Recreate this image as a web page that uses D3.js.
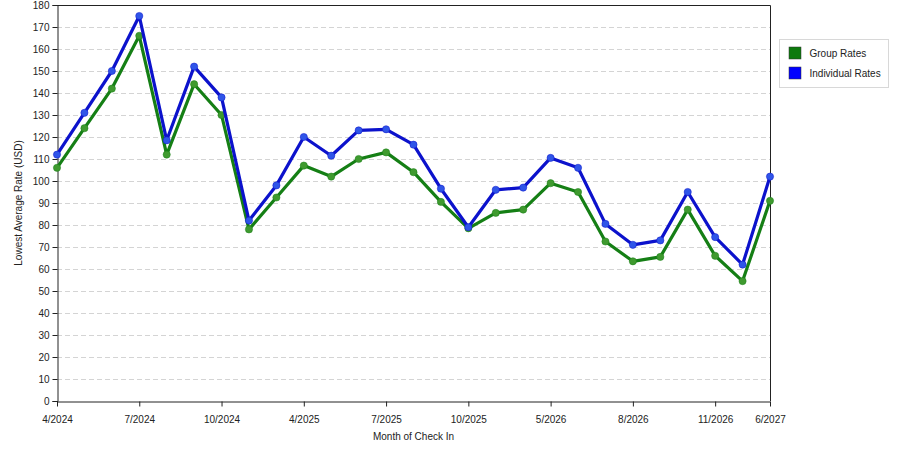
<html>
<head>
  <meta charset="utf-8">
  <title>Lowest Average Rate</title>
  <style>
    body { margin: 0; background: #fff; }
    text { font-family: "Liberation Sans", Arial, sans-serif; font-size: 10px; fill: #222; }
  </style>
</head>
<body>
<div id="chart"></div>
<script src="https://cdn.jsdelivr.net/npm/d3@7/dist/d3.min.js"></script>
<script>
var months = ['4/2024', '5/2024', '6/2024', '7/2024', '8/2024', '9/2024', '10/2024', '11/2024', '3/2025',
  '4/2025', '5/2025', '6/2025', '7/2025', '8/2025', '9/2025', '10/2025', '3/2026', '4/2026',
  '5/2026', '6/2026', '7/2026', '8/2026', '9/2026', '10/2026', '11/2026', '5/2027', '6/2027']
var groupRates = [106, 124, 142, 166, 112, 144, 130, 78, 92.5,
  107, 102, 110, 113, 104, 90.5, 78.5, 85.5, 87,
  99, 95, 72.5, 63.5, 65.5, 87, 66, 54.5, 91]
var individualRates = [112, 131, 150, 175, 118.5, 152, 138, 82, 98,
  120, 111.5, 123, 123.5, 116.5, 96.5, 79, 96, 97,
  110.5, 106, 80.5, 71, 73, 95, 74.5, 62, 102]
var shownTicks = ['4/2024', '7/2024', '10/2024', '4/2025', '7/2025', '10/2025', '5/2026', '8/2026', '11/2026', '6/2027']
var yTicks = d3.range(0, 181, 10)

var width = 900
var height = 450
var margin = {top: 5, right: 130, bottom: 49, left: 57}
var plotW = width - margin.left - margin.right
var plotH = height - margin.top - margin.bottom

var svg = d3.select('#chart').append('svg')
  .attr('width', width)
  .attr('height', height)

var xScale = d3.scalePoint()
  .domain(months)
  .range([0, plotW])

var yScale = d3.scaleLinear()
  .domain([0, 180])
  .range([plotH, 0])

var g = svg.append('g')
  .attr('transform', `translate(${margin.left},${margin.top})`)

// grid
g.selectAll('.grid')
  .data(yTicks.filter(function(d) { return d > 0 && d < 180 }))
  .enter().append('line')
  .attr('x1', 0)
  .attr('x2', plotW)
  .attr('y1', function(d) { return yScale(d) + 0.5 })
  .attr('y2', function(d) { return yScale(d) + 0.5 })
  .attr('stroke', '#d4d4d4')
  .attr('stroke-dasharray', '5,3')

// frame top / right
g.append('path')
  .attr('d', `M0.5,0.5H${plotW + 0.5}V${plotH}`)
  .attr('fill', 'none')
  .attr('stroke', '#222')

var yAxis = d3.axisLeft(yScale)
  .tickValues(yTicks)
  .tickSize(5)
  .tickPadding(3)
var gy = g.append('g').attr('transform', 'translate(0.5,0)').call(yAxis)
gy.select('.domain').attr('stroke', '#222')
gy.selectAll('.tick line').attr('stroke', '#222')
gy.selectAll('text').style('font-size', '10px').attr('fill', '#222')

var xAxis = d3.axisBottom(xScale)
  .tickValues(shownTicks)
  .tickSize(5)
  .tickSizeOuter(0)
  .tickPadding(9)
var gx = g.append('g').attr('transform', `translate(0,${plotH + 0.5})`).call(xAxis)
gx.select('.domain').attr('stroke', '#222')
gx.selectAll('.tick line').attr('stroke', '#222')
gx.selectAll('text').style('font-size', '10px').attr('fill', '#222')

// axis titles
svg.append('text')
  .attr('x', margin.left + plotW / 2)
  .attr('y', 440)
  .attr('text-anchor', 'middle')
  .text('Month of Check In')

svg.append('text')
  .attr('transform', `translate(22,${margin.top + plotH / 2}) rotate(-90)`)
  .attr('text-anchor', 'middle')
  .text('Lowest Average Rate (USD)')

var series = [
  {name: 'Group Rates', values: groupRates, line: '#157f15', dot: '#3f9a2f', key: '#0d7a0d'},
  {name: 'Individual Rates', values: individualRates, line: '#0c12cc', dot: '#2f55e8', key: '#0000ff'}
]

var line = d3.line()
  .x(function(d, i) { return xScale(months[i]) })
  .y(function(d) { return yScale(d) })

series.forEach(function(s) {
  g.append('path')
    .datum(s.values)
    .attr('d', line)
    .attr('fill', 'none')
    .attr('stroke', s.line)
    .attr('stroke-width', 3.2)
    .attr('stroke-linejoin', 'round')
  g.selectAll(null)
    .data(s.values)
    .enter().append('circle')
    .attr('cx', function(d, i) { return xScale(months[i]) })
    .attr('cy', function(d) { return yScale(d) })
    .attr('r', 3.6)
    .attr('fill', s.dot)
    .attr('stroke', s.line)
    .attr('stroke-opacity', 0.5)
    .attr('stroke-width', 1)
})

// legend
var legend = svg.append('g').attr('transform', 'translate(779.5,39.5)')
legend.append('rect')
  .attr('width', 109)
  .attr('height', 48)
  .attr('fill', '#fff')
  .attr('stroke', '#d8d8d8')
series.forEach(function(s, i) {
  legend.append('rect')
    .attr('x', 9.5)
    .attr('y', 7.5 + i * 20)
    .attr('width', 12)
    .attr('height', 12)
    .attr('fill', s.key)
    .attr('stroke', '#333')
    .attr('stroke-width', 0.5)
  legend.append('text')
    .attr('x', 30)
    .attr('y', 17.5 + i * 20)
    .text(s.name)
})
</script>
</body>
</html>
